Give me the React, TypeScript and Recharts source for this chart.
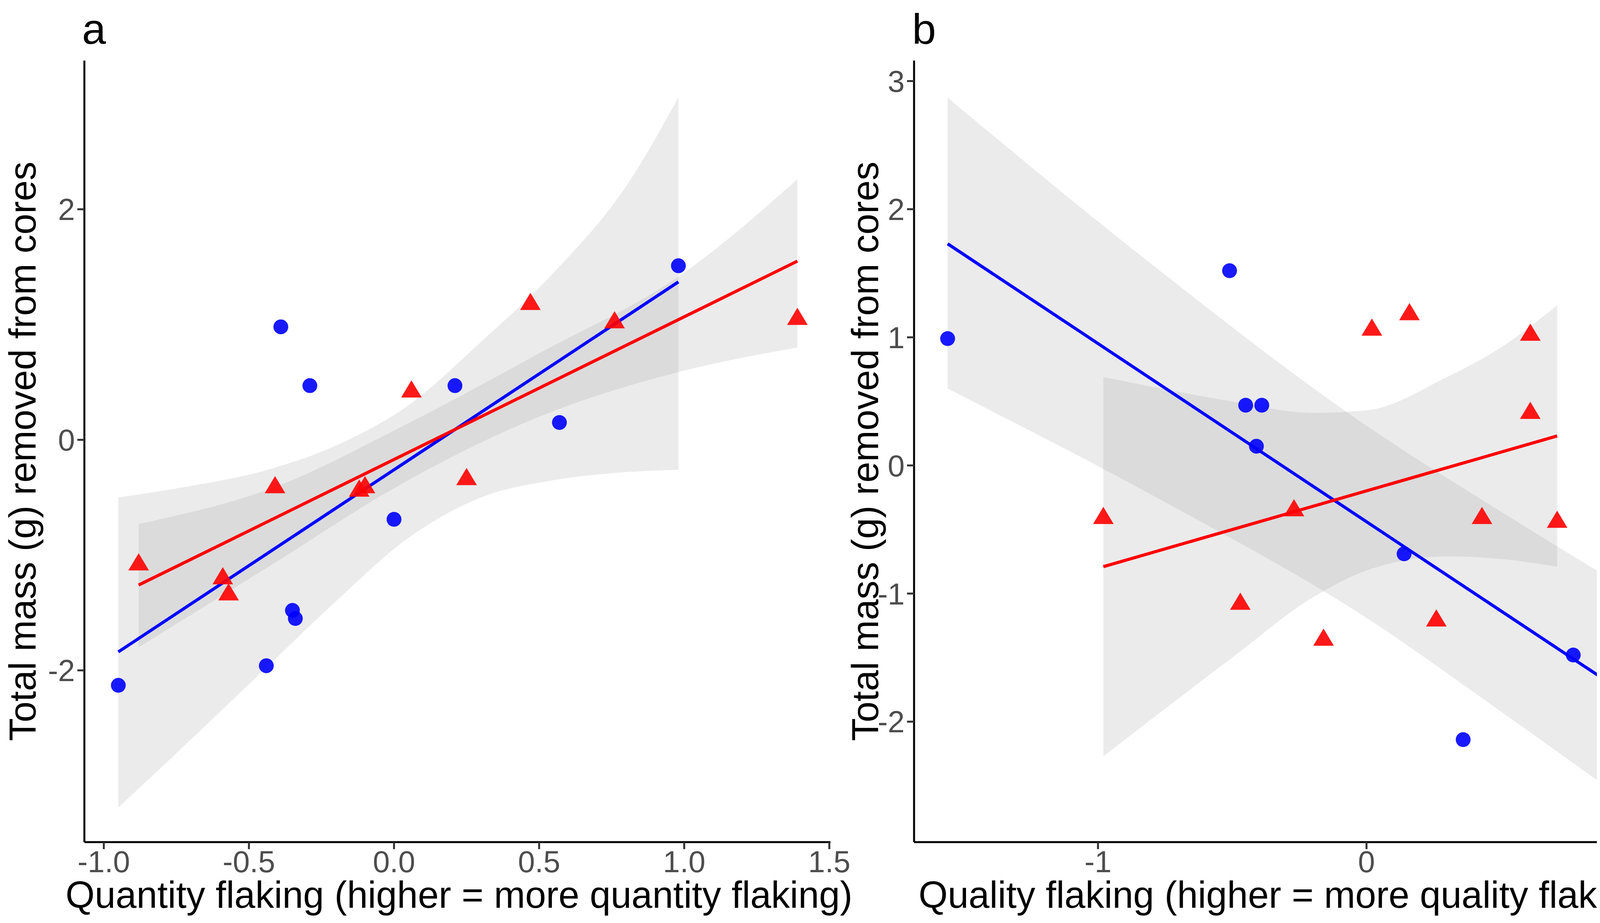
import React from "react";
import {
  ComposedChart,
  Scatter,
  Line,
  Area,
  XAxis,
  YAxis,
} from "recharts";

// panel a: quantity flaking vs mass
const aObsPts: [number, number][] = [
  [-0.95, -2.13], [-0.39, 0.98], [-0.29, 0.47], [-0.44, -1.96], [-0.35, -1.48],
  [-0.34, -1.55], [0.0, -0.69], [0.21, 0.47], [0.57, 0.15], [0.98, 1.51],
];
const aActPts: [number, number][] = [
  [-0.88, -1.07], [-0.59, -1.19], [-0.57, -1.33], [-0.41, -0.4], [-0.12, -0.43],
  [-0.1, -0.4], [0.06, 0.43], [0.25, -0.33], [0.47, 1.19], [0.76, 1.03], [1.39, 1.06],
];
const aObsFit: [number, number][] = [[-0.95, -1.84], [0.98, 1.37]];
const aActFit: [number, number][] = [[-0.88, -1.26], [1.39, 1.55]];
const aObsBand: [number, number, number][] = [
  [-0.95, -3.19, -0.5], [-0.7, -2.6, -0.4], [-0.45, -2.0, -0.27], [-0.2, -1.4, -0.05],
  [0.05, -0.85, 0.3], [0.3, -0.5, 0.85], [0.55, -0.35, 1.45], [0.8, -0.28, 2.2], [0.98, -0.26, 2.97],
];
const aActBand: [number, number, number][] = [
  [-0.88, -1.8, -0.73], [-0.4, -1.05, -0.4], [0, -0.42, 0.08], [0.5, 0.2, 0.75],
  [1.0, 0.6, 1.45], [1.39, 0.8, 2.26],
];

// panel b: quality flaking vs mass
const bObsPts: [number, number][] = [
  [-1.56, 0.99], [-0.51, 1.52], [-0.45, 0.47], [-0.39, 0.47], [-0.41, 0.15],
  [0.14, -0.69], [0.36, -2.14], [0.77, -1.48], [1.0, -1.55], [0.997, -1.96],
];
const bActPts: [number, number][] = [
  [-0.98, -0.4], [-0.47, -1.07], [-0.27, -0.34], [-0.16, -1.35], [0.02, 1.07], [0.16, 1.19],
  [0.26, -1.2], [0.43, -0.4], [0.61, 1.03], [0.61, 0.42], [0.71, -0.43],
];
const bObsFit: [number, number][] = [[-1.56, 1.73], [1.0, -1.83]];
const bActFit: [number, number][] = [[-0.98, -0.79], [0.71, 0.23]];
const bObsBand: [number, number, number][] = [
  [-1.56, 0.6, 2.87], [-0.8, -0.23, 1.57], [0, -1.19, 0.31], [0.5, -1.92, -0.36], [1.0, -2.67, -1.0],
];
const bActBand: [number, number, number][] = [
  [-0.98, -2.27, 0.69], [-0.5, -1.5, 0.5], [-0.2, -1.03, 0.41], [0, -0.82, 0.43],
  [0.3, -0.71, 0.69], [0.5, -0.73, 0.92], [0.71, -0.79, 1.25],
];

// panel c: quantity flaking vs quality flaking
const cObsPts: [number, number][] = [
  [-0.95, 0.36], [-0.44, 1.0], [-0.34, 1.0], [-0.35, 0.77], [-0.29, -0.44],
  [-0.39, -1.55], [0.0, 0.14], [0.21, -0.38], [0.57, -0.4], [0.97, -0.5],
];
const cActPts: [number, number][] = [
  [-0.88, -0.45], [-0.6, 0.27], [-0.57, -0.14], [-0.41, 0.44], [-0.12, 0.73], [-0.1, -0.96],
  [0.06, 0.62], [0.24, -0.26], [0.47, 0.17], [0.75, 0.63], [1.39, 0.04],
];
const cObsFit: [number, number][] = [[-0.95, 0.44], [0.98, -0.57]];
const cActFit: [number, number][] = [[-0.88, -0.05], [1.39, 0.3]];
const cObsBand: [number, number, number][] = [
  [-0.95, -0.67, 1.55], [-0.7, -0.66, 1.17], [-0.45, -0.69, 0.88], [-0.2, -0.77, 0.65],
  [0.05, -0.9, 0.52], [0.3, -1.1, 0.52], [0.55, -1.35, 0.59], [0.98, -1.89, 0.76],
];
const cActBand: [number, number, number][] = [
  [-0.88, -0.69, 0.58], [-0.5, -0.5, 0.48], [-0.2, -0.35, 0.45], [0.1, -0.28, 0.49],
  [0.4, -0.28, 0.6], [0.7, -0.36, 0.75], [1.0, -0.44, 0.92], [1.39, -0.57, 1.17],
];

const BLUE = "#0000FF";
const RED = "#FF0000";
const FONT = "'Liberation Sans', Arial, sans-serif";
const TOP = 155;
const PLOT_H = 2000;
const YW = 170;
const XH = 120;

const pts = (a: [number, number][]) => a.map(([x, y]) => ({ x, y }));
const band = (a: [number, number, number][]) => a.map(([x, lo, hi]) => ({ x, r: [lo, hi] }));

const Dot = (p: any) => (
  <circle cx={p.cx} cy={p.cy} r={19} fill={BLUE} fillOpacity={0.9} />
);
const Tri = (p: any) => {
  const s = 22;
  return (
    <polygon
      points={`${p.cx},${p.cy - s * 1.15} ${p.cx - s * 1.2},${p.cy + s * 0.85} ${p.cx + s * 1.2},${p.cy + s * 0.85}`}
      fill={RED}
      fillOpacity={0.9}
    />
  );
};

type PanelProps = {
  left: number;
  plotW: number;
  xDomain: [number, number];
  xTicks: number[];
  xFmt: (v: number) => string;
  yDomain: [number, number];
  yTicks: number[];
  obs: [number, number][];
  act: [number, number][];
  obsFit: [number, number][];
  actFit: [number, number][];
  obsBand: [number, number, number][];
  actBand: [number, number, number][];
};

function Panel(p: PanelProps) {
  const tick = { fill: "#4D4D4D", fontSize: 78, fontFamily: FONT };
  return (
    <div style={{ position: "absolute", left: p.left - YW, top: TOP }}>
      <ComposedChart
        width={p.plotW + YW + 80}
        height={PLOT_H + XH}
        margin={{ top: 0, right: 80, bottom: 0, left: 0 }}
      >
        <XAxis
          type="number"
          dataKey="x"
          domain={p.xDomain}
          ticks={p.xTicks}
          tickFormatter={p.xFmt}
          allowDataOverflow
          height={XH}
          tick={tick}
          tickSize={18}
          tickMargin={4}
          axisLine={{ stroke: "#000", strokeWidth: 5 }}
          tickLine={{ stroke: "#333", strokeWidth: 5 }}
        />
        <YAxis
          type="number"
          domain={p.yDomain}
          ticks={p.yTicks}
          allowDataOverflow
          width={YW}
          tick={tick}
          tickSize={18}
          tickMargin={6}
          axisLine={{ stroke: "#000", strokeWidth: 5 }}
          tickLine={{ stroke: "#333", strokeWidth: 5 }}
        />
        <Area data={band(p.obsBand)} dataKey="r" type="monotone" stroke="none" fill="#999999" fillOpacity={0.2} isAnimationActive={false} />
        <Area data={band(p.actBand)} dataKey="r" type="monotone" stroke="none" fill="#999999" fillOpacity={0.2} isAnimationActive={false} />
        <Line data={pts(p.obsFit)} dataKey="y" stroke={BLUE} strokeWidth={8} dot={false} isAnimationActive={false} />
        <Line data={pts(p.actFit)} dataKey="y" stroke={RED} strokeWidth={8} dot={false} isAnimationActive={false} />
        <Scatter data={pts(p.obs)} dataKey="y" shape={Dot} isAnimationActive={false} />
        <Scatter data={pts(p.act)} dataKey="y" shape={Tri} isAnimationActive={false} />
      </ComposedChart>
    </div>
  );
}

const txt = (s: React.CSSProperties): React.CSSProperties => ({
  position: "absolute",
  fontFamily: FONT,
  color: "#000",
  whiteSpace: "nowrap",
  ...s,
});

function YTitle({ x, text }: { x: number; text: string }) {
  return (
    <div
      style={txt({
        left: x,
        top: TOP + PLOT_H / 2,
        fontSize: 96,
        transform: "translate(-50%, -50%) rotate(-90deg)",
      })}
    >
      {text}
    </div>
  );
}

function XTitle({ cx, text }: { cx: number; text: string }) {
  return (
    <div style={txt({ left: cx, top: 2235, fontSize: 96, transform: "translateX(-50%)" })}>
      {text}
    </div>
  );
}

const f1 = (v: number) => v.toFixed(1);
const f0 = (v: number) => String(v);

export default function App() {
  return (
    <div style={{ position: "relative", width: 7086, height: 2362, margin: -8, background: "#fff", overflow: "hidden" }}>
      <div style={txt({ left: 210, top: 10, fontSize: 110 })}>a</div>
      <div style={txt({ left: 2335, top: 10, fontSize: 110 })}>b</div>
      <div style={txt({ left: 4480, top: 10, fontSize: 110 })}>c</div>

      <Panel
        left={216}
        plotW={1910}
        xDomain={[-1.067, 1.504]}
        xTicks={[-1, -0.5, 0, 0.5, 1, 1.5]}
        xFmt={f1}
        yDomain={[-3.49, 3.29]}
        yTicks={[-2, 0, 2]}
        obs={aObsPts}
        act={aActPts}
        obsFit={aObsFit}
        actFit={aActFit}
        obsBand={aObsBand}
        actBand={aActBand}
      />
      <Panel
        left={2340}
        plotW={1935}
        xDomain={[-1.685, 1.13]}
        xTicks={[-1, 0, 1]}
        xFmt={f0}
        yDomain={[-2.94, 3.16]}
        yTicks={[-2, -1, 0, 1, 2, 3]}
        obs={bObsPts}
        act={bActPts}
        obsFit={bObsFit}
        actFit={bActFit}
        obsBand={bObsBand}
        actBand={bActBand}
      />
      <Panel
        left={4500}
        plotW={1915}
        xDomain={[-1.07, 1.5]}
        xTicks={[-1, -0.5, 0, 0.5, 1, 1.5]}
        xFmt={f1}
        yDomain={[-2.06, 1.72]}
        yTicks={[-2, -1, 0, 1]}
        obs={cObsPts}
        act={cActPts}
        obsFit={cObsFit}
        actFit={cActFit}
        obsBand={cObsBand}
        actBand={cActBand}
      />

      <YTitle x={58} text="Total mass (g) removed from cores" />
      <YTitle x={2215} text="Total mass (g) removed from cores" />
      <YTitle x={4370} text="Quality flaking (higher = more quality flaking)" />
      <XTitle cx={1175} text="Quantity flaking (higher = more quantity flaking)" />
      <XTitle cx={3300} text="Quality flaking (higher = more quality flaking)" />
      <XTitle cx={5460} text="Quantity flaking (higher = more quantity flaking)" />

      <div style={txt({ left: 6490, top: 1010, fontSize: 92 })}>Condition</div>
      <svg style={{ position: "absolute", left: 6490, top: 1145 }} width={90} height={170}>
        <rect x={0} y={0} width={90} height={170} fill="#EBEBEB" />
        <line x1={8} y1={42} x2={82} y2={42} stroke={BLUE} strokeWidth={8} />
        <circle cx={45} cy={42} r={19} fill={BLUE} />
        <line x1={8} y1={126} x2={82} y2={126} stroke={RED} strokeWidth={8} />
        <polygon points="45,100 19,144 71,144" fill={RED} />
      </svg>
      <div style={txt({ left: 6595, top: 1143, fontSize: 74 })}>observation only</div>
      <div style={txt({ left: 6595, top: 1227, fontSize: 74 })}>active teaching</div>
    </div>
  );
}
